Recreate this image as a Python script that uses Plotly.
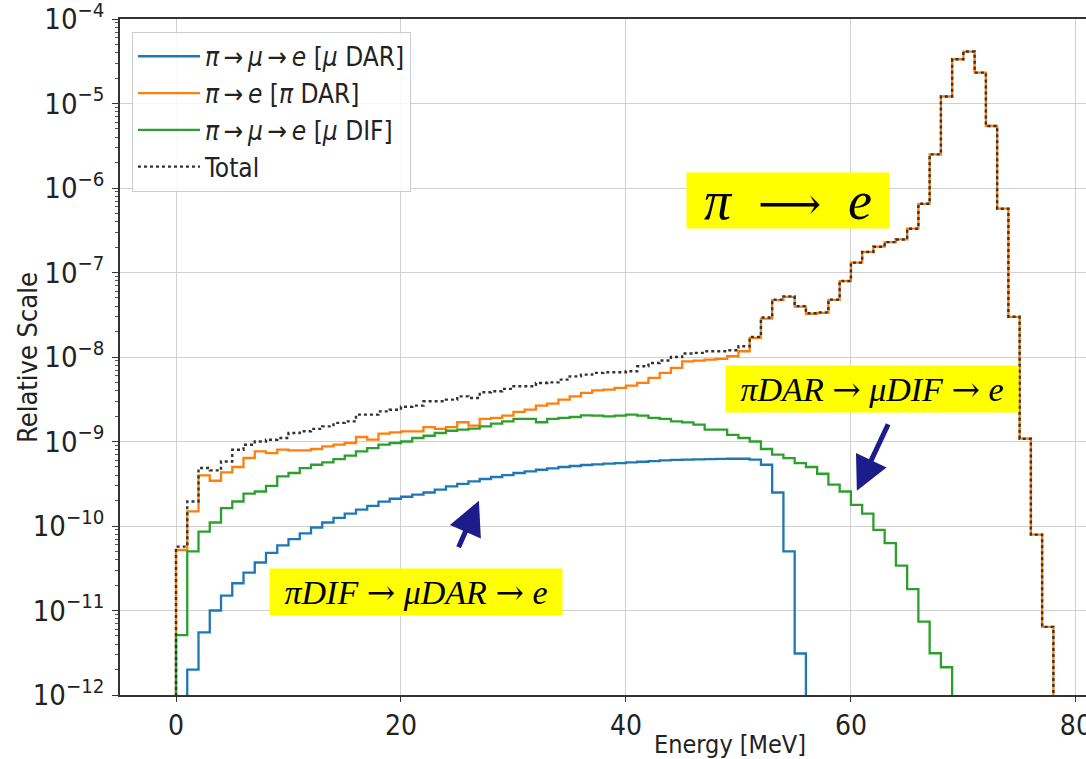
import plotly.graph_objects as go

# Energy bin edges [MeV], 1 MeV wide bins from 0 to 78
bin_edges = list(range(0, 79))

# Relative yields per bin (0 = empty bin)
mu_dar = [
    0, 2.0e-12, 5.5e-12, 1.0e-11, 1.5e-11, 2.1e-11, 2.8e-11, 3.7e-11, 4.8e-11, 5.9e-11,
    7.0e-11, 8.2e-11, 9.6e-11, 1.10e-10, 1.25e-10, 1.40e-10, 1.56e-10, 1.73e-10, 1.94e-10, 2.10e-10,
    2.22e-10, 2.35e-10, 2.49e-10, 2.70e-10, 2.94e-10, 3.16e-10, 3.37e-10, 3.60e-10, 3.80e-10, 4.01e-10,
    4.24e-10, 4.43e-10, 4.63e-10, 4.80e-10, 4.99e-10, 5.13e-10, 5.27e-10, 5.36e-10, 5.46e-10, 5.56e-10,
    5.65e-10, 5.76e-10, 5.87e-10, 5.97e-10, 6.05e-10, 6.10e-10, 6.15e-10, 6.20e-10, 6.22e-10, 6.25e-10,
    6.25e-10, 6.10e-10, 5.31e-10, 2.49e-10, 5.0e-11, 3.1e-12, 0, 0, 0, 0,
    0, 0, 0, 0, 0, 0, 0, 0, 0, 0,
    0, 0, 0, 0, 0, 0, 0, 0,
]

pi_dar = [
    5.2e-11, 1.49e-10, 3.97e-10, 3.43e-10, 4.3e-10, 4.99e-10, 6.38e-10, 7.64e-10, 7.3e-10, 8.0e-10,
    7.85e-10, 7.85e-10, 8.15e-10, 8.75e-10, 9.17e-10, 9.6e-10, 1.13e-9, 1.05e-9, 1.24e-9, 1.28e-9,
    1.32e-9, 1.32e-9, 1.48e-9, 1.41e-9, 1.48e-9, 1.69e-9, 1.54e-9, 1.85e-9, 1.90e-9, 2.02e-9,
    2.24e-9, 2.38e-9, 2.66e-9, 2.81e-9, 3.13e-9, 3.42e-9, 3.76e-9, 4.03e-9, 4.11e-9, 4.30e-9,
    4.58e-9, 4.93e-9, 5.65e-9, 6.48e-9, 7.43e-9, 8.9e-9, 9.07e-9, 9.3e-9, 9.5e-9, 1.02e-8,
    1.17e-8, 1.68e-8, 2.85e-8, 4.7e-8, 5.15e-8, 3.95e-8, 3.25e-8, 3.33e-8, 4.75e-8, 7.9e-8,
    1.31e-7, 1.75e-7, 2.02e-7, 2.29e-7, 2.46e-7, 3.3e-7, 6.5e-7, 2.5e-6, 1.21e-5, 3.34e-5,
    4.12e-5, 2.32e-5, 5.42e-6, 5.69e-7, 2.99e-8, 1.08e-9, 7.9e-11, 6.4e-12,
]

mu_dif = [
    5.1e-12, 5.0e-11, 8.6e-11, 1.10e-10, 1.63e-10, 1.95e-10, 2.41e-10, 2.56e-10, 2.99e-10, 3.86e-10,
    4.24e-10, 4.85e-10, 5.31e-10, 5.65e-10, 6.2e-10, 6.79e-10, 7.64e-10, 8.37e-10, 9.17e-10, 9.6e-10,
    1.0e-9, 1.10e-9, 1.17e-9, 1.26e-9, 1.34e-9, 1.38e-9, 1.42e-9, 1.51e-9, 1.63e-9, 1.73e-9,
    1.85e-9, 1.85e-9, 1.69e-9, 1.85e-9, 1.90e-9, 1.95e-9, 2.04e-9, 2.02e-9, 1.98e-9, 2.02e-9,
    2.08e-9, 2.02e-9, 1.90e-9, 1.85e-9, 1.73e-9, 1.68e-9, 1.58e-9, 1.38e-9, 1.38e-9, 1.20e-9,
    1.10e-9, 1.0e-9, 8.15e-10, 6.98e-10, 6.37e-10, 5.56e-10, 4.99e-10, 4.15e-10, 3.08e-10, 2.56e-10,
    1.78e-10, 1.40e-10, 9.0e-11, 6.27e-11, 3.40e-11, 1.79e-11, 7.4e-12, 3.12e-12, 2.13e-12, 0,
    0, 0, 0, 0, 0, 0, 0, 0,
]

total = [
    5.7e-11, 1.95e-10, 4.85e-10, 4.55e-10, 5.81e-10, 8.0e-10, 9.17e-10, 1.0e-9, 1.05e-9, 1.10e-9,
    1.26e-9, 1.32e-9, 1.41e-9, 1.51e-9, 1.66e-9, 1.73e-9, 2.08e-9, 2.08e-9, 2.27e-9, 2.38e-9,
    2.58e-9, 2.66e-9, 2.99e-9, 2.99e-9, 3.13e-9, 3.42e-9, 3.27e-9, 3.82e-9, 3.93e-9, 4.19e-9,
    4.5e-9, 4.5e-9, 4.93e-9, 5.01e-9, 5.4e-9, 5.9e-9, 6.18e-9, 6.48e-9, 6.59e-9, 6.59e-9,
    6.77e-9, 7.76e-9, 8.5e-9, 9.1e-9, 1.0e-8, 1.1e-8, 1.12e-8, 1.17e-8, 1.17e-8, 1.20e-8,
    1.34e-8, 1.73e-8, 2.93e-8, 4.78e-8, 5.22e-8, 4.0e-8, 3.3e-8, 3.37e-8, 4.78e-8, 7.93e-8,
    1.31e-7, 1.75e-7, 2.02e-7, 2.29e-7, 2.46e-7, 3.3e-7, 6.5e-7, 2.5e-6, 1.21e-5, 3.34e-5,
    4.12e-5, 2.32e-5, 5.42e-6, 5.69e-7, 2.99e-8, 1.08e-9, 7.9e-11, 6.4e-12,
]

TS = "\u2009"  # thin space around the legend arrows
series_names = [
    f"<i>π</i>{TS}→{TS}<i>μ</i>{TS}→{TS}<i>e</i> [<i>μ</i> DAR]",
    f"<i>π</i>{TS}→{TS}<i>e</i> [<i>π</i> DAR]",
    f"<i>π</i>{TS}→{TS}<i>μ</i>{TS}→{TS}<i>e</i> [<i>μ</i> DIF]",
    "Total",
]
series_values = [mu_dar, pi_dar, mu_dif, total]
series_colors = ["#1f77b4", "#ff7f0e", "#2ca02c", "#333333"]
series_dash = ["solid", "solid", "solid", "dot"]

y_ticks = [1e-12, 1e-11, 1e-10, 1e-9, 1e-8, 1e-7, 1e-6, 1e-5, 1e-4]
y_ticktext = ["10<sup>−%d</sup>" % e for e in (12, 11, 10, 9, 8, 7, 6, 5, 4)]
x_ticks = [0, 20, 40, 60, 80]

FLOOR = 1e-14  # below the visible range, closes the step outline at both ends


def step_outline(edges, values):
    """Histogram 'step' outline: rises at the first filled bin, drops after the last."""
    filled = [i for i, v in enumerate(values) if v > 0]
    i0, i1 = filled[0], filled[-1]
    xs = [edges[i0]] + [edges[i] for i in range(i0, i1 + 1)] + [edges[i1 + 1]]
    ys = [FLOOR] + [values[i] for i in range(i0, i1 + 1)] + [FLOOR]
    return xs, ys


fig = go.Figure()
for k, (name, vals, col, dash) in enumerate(zip(series_names, series_values, series_colors, series_dash)):
    xs, ys = step_outline(bin_edges, vals)
    fig.add_trace(go.Scatter(
        x=xs, y=ys, mode="lines", name=name, legendgroup="g%d" % k,
        line=dict(color=col, width=2.3 if dash == "solid" else 2.4, dash=dash, shape="hv"),
    ))

FONT = "DejaVu Sans Condensed, DejaVu Sans, sans-serif"
SERIF = "Liberation Serif, Times New Roman, serif"
ARROW = "#1c1c8a"
RARR = '<span style="font-family:DejaVu Serif">→</span>'
LONGARR = '<span style="font-family:DejaVu Serif;font-size:44px">⟶</span>'

fig.update_layout(
    width=1086, height=759,
    margin=dict(l=120, r=0, t=19, b=64),
    paper_bgcolor="white", plot_bgcolor="white",
    font=dict(family=FONT, size=26, color="#222"),
    showlegend=True,
    legend=dict(
        x=0.0124, y=0.981, xanchor="left", yanchor="top",
        bgcolor="rgba(255,255,255,0.85)", bordercolor="#cccccc", borderwidth=1,
        font=dict(family=FONT, size=26, color="#222"), tracegroupgap=0,
        itemwidth=62,
    ),
    xaxis=dict(
        range=[-4.98, 80.9], tickvals=x_ticks, ticks="outside", ticklen=5,
        tickcolor="#333", showline=True, linecolor="#333", linewidth=1.5, mirror=True,
        showgrid=True, gridcolor="#d0d0d0", gridwidth=1, zeroline=False,
        tickfont=dict(size=28), ticklabelstandoff=0, ticklabeloverflow="allow",
        automargin=False,
    ),
    yaxis=dict(
        type="log", range=[-12, -4], tickvals=y_ticks, ticktext=y_ticktext,
        ticks="outside", ticklen=6, tickcolor="#333",
        showline=True, linecolor="#333", linewidth=1.5, mirror=True,
        showgrid=True, gridcolor="#d0d0d0", gridwidth=1, zeroline=False,
        tickfont=dict(size=29), ticklabelstandoff=2, ticklabeloverflow="allow",
        minor=dict(ticks="outside", ticklen=3, tickcolor="#555", dtick="D1", showgrid=False),
        automargin=False,
    ),
)

# axis labels
fig.add_annotation(
    text="Energy [MeV]", xref="paper", yref="paper", x=0.631, y=-0.073,
    xanchor="center", yanchor="middle", showarrow=False, font=dict(size=25, color="#222"),
)
fig.add_annotation(
    text="Relative Scale", xref="paper", yref="paper", x=-0.0963, y=0.5, textangle=-90,
    xanchor="center", yanchor="middle", showarrow=False, font=dict(size=27, color="#222"),
)

# Highlighted labels for the decay chains
boxes = [
    ("<i>π</i>  " + LONGARR + "  <i>e</i>", 54.4, -6.153, 202, 55, 54),
    ("<i>πDAR</i> " + RARR + " <i>μDIF</i> " + RARR + " <i>e</i>", 61.87, -8.374, 292, 46, 34),
    ("<i>πDIF</i> " + RARR + " <i>μDAR</i> " + RARR + " <i>e</i>", 21.33, -10.78, 292, 46, 34),
]
for txt, bx, by, bw, bh, fs in boxes:
    fig.add_annotation(
        text=txt, x=bx, y=by, xref="x", yref="y", showarrow=False,
        width=bw, height=bh, bgcolor="#ffff00", borderpad=0,
        font=dict(family=SERIF, size=fs, color="black"),
        xanchor="center", yanchor="middle", align="center", valign="middle",
    )

# Pointer arrows
arrows = [(26.93, -9.701, -21, 48), (60.53, -9.583, 32, -68)]
for tx, ty, dx, dy in arrows:
    fig.add_annotation(
        x=tx, y=ty, xref="x", yref="y", ax=dx, ay=dy, text="",
        showarrow=True, arrowhead=2, arrowsize=1.35, arrowwidth=5, arrowcolor=ARROW,
    )

fig.write_html("out.html")
